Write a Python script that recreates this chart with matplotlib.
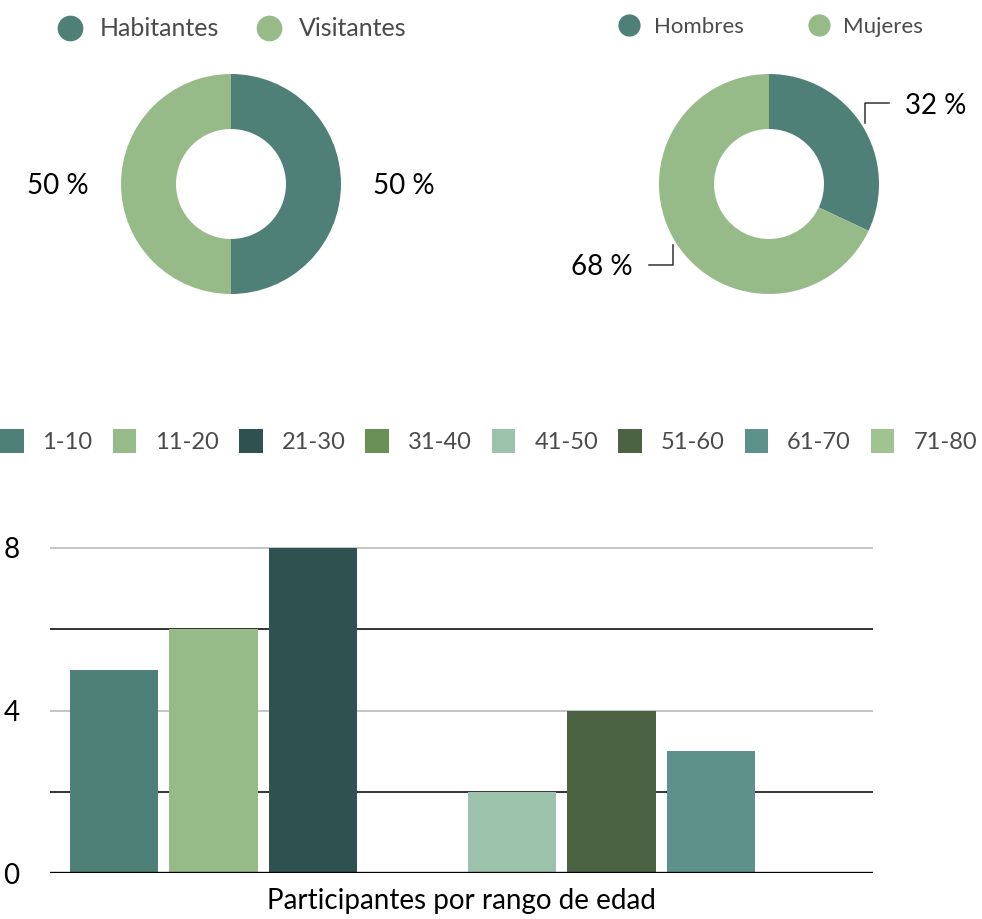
import numpy as np
import matplotlib.pyplot as plt
from matplotlib.lines import Line2D
from matplotlib.patches import Patch

plt.rcParams['font.family'] = ['Lato', 'DejaVu Sans']

# data
res_labels = ['Habitantes', 'Visitantes']
res_values = [50, 50]
sex_labels = ['Hombres', 'Mujeres']
sex_values = [32, 68]
age_labels = ['1-10', '11-20', '21-30', '31-40', '41-50', '51-60', '61-70', '71-80']
age_values = [5, 6, 8, 0, 2, 4, 3, 0]

pie_colors = ['#4e8078', '#96bb88']
age_colors = ['#4e8078', '#96bb88', '#2f5250', '#6a8f55',
              '#9cc2ab', '#4b6343', '#5e918a', '#a0c491']
legend_grey = '#4a4a4a'

W, H = 982, 919
fig = plt.figure(figsize=(W / 100, H / 100), dpi=100)


def box(x0, y0, x1, y1):
    # pixel box (top-left origin) -> figure fraction rect
    return [x0 / W, 1 - y1 / H, (x1 - x0) / W, (y1 - y0) / H]


def donut(rect, values):
    ax = fig.add_axes(rect)
    wedges, _ = ax.pie(values, colors=pie_colors, startangle=90, counterclock=False,
                       radius=1, wedgeprops=dict(width=0.5, linewidth=0))
    ax.set_xlim(-1, 1)
    ax.set_ylim(-1, 1)
    ax.set_aspect('equal')
    ax.axis('off')
    return ax, wedges


# --- left donut ---
ax1, w1 = donut(box(121, 74, 341, 294), res_values)
for w, v in zip(w1, res_values):
    ang = np.deg2rad((w.theta1 + w.theta2) / 2)
    ax1.text(1.57 * np.cos(ang), 1.57 * np.sin(ang) - 0.02, f'{v} %', ha='center',
             va='center', fontsize=20, color='black', clip_on=False)

# --- right donut with elbow leaders ---
ax2, w2 = donut(box(659, 74, 879, 294), sex_values)
for w, v in zip(w2, sex_values):
    ang = np.deg2rad((w.theta1 + w.theta2) / 2)
    x0, y0 = 1.03 * np.cos(ang), 1.03 * np.sin(ang)
    sy = np.sign(np.sin(ang))
    sx = np.sign(np.cos(ang))
    y1 = y0 + 0.18 * sy
    x1 = x0 + 0.22 * sx
    ax2.plot([x0, x0, x1], [y0, y1, y1], color='#333333', lw=1.1, clip_on=False)
    ax2.text(x1 + 0.15 * sx, y1 - 0.02, f'{v} %', ha='left' if sx > 0 else 'right',
             va='center', fontsize=20, color='black', clip_on=False)

# --- donut legends ---
h1 = [Line2D([], [], marker='o', ls='', ms=18.5, color=c, mec='none') for c in pie_colors]
fig.legend(h1, res_labels, loc='center left', bbox_to_anchor=(57 / W, 1 - 29 / H),
           ncol=2, frameon=False, fontsize=18, labelcolor=legend_grey,
           handlelength=1.0, handletextpad=0.7, columnspacing=1.5,
           borderpad=0, borderaxespad=0)
h2 = [Line2D([], [], marker='o', ls='', ms=16, color=c, mec='none') for c in pie_colors]
fig.legend(h2, sex_labels, loc='center left', bbox_to_anchor=(618 / W, 1 - 27 / H),
           ncol=2, frameon=False, fontsize=16, labelcolor=legend_grey,
           handlelength=1.0, handletextpad=0.6, columnspacing=2.9,
           borderpad=0, borderaxespad=0)

# --- bar chart ---
ax3 = fig.add_axes(box(50, 873 - 8.2 * 40.625, 873, 873))
x = np.arange(len(age_labels))
ax3.bar(x, age_values, width=0.885, color=age_colors, zorder=2)
ax3.set_xlim(-0.643, 7.628)
ax3.set_ylim(0, 8.2)
for yv, c in [(2, '#111111'), (4, '#bbbbbb'), (6, '#111111'), (8, '#bbbbbb')]:
    ax3.axhline(yv, color=c, lw=1.2, zorder=1)
ax3.axhline(0, color='black', lw=2.4, zorder=3)
ax3.set_yticks([0, 4, 8])
ax3.set_xticks([])
ax3.tick_params(axis='y', length=0, pad=22, labelsize=20, labelcolor='black')
for s in ax3.spines.values():
    s.set_visible(False)
ax3.set_xlabel('Participantes por rango de edad', fontsize=20, color='black', labelpad=11)

h3 = [Patch(facecolor=c, edgecolor='none') for c in age_colors]
fig.legend(h3, age_labels, loc='center left', ncol=8, mode='expand',
           bbox_to_anchor=(0, 1 - 441 / H, 977 / W, 0), frameon=False,
           fontsize=17, labelcolor=legend_grey, handlelength=1.0, handleheight=1.2,
           handletextpad=0.8, columnspacing=0.5, borderpad=0, borderaxespad=0)

fig.savefig('out.png', dpi=100)
